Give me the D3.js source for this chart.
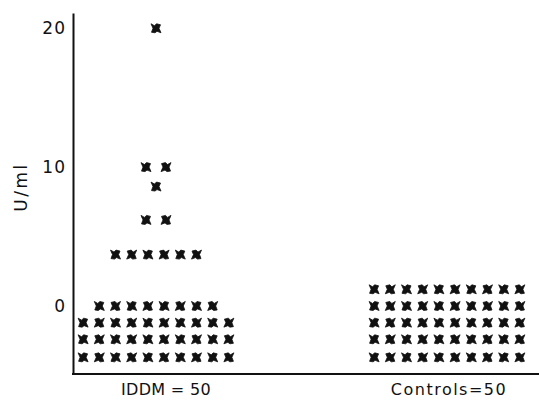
<!DOCTYPE html>
<html>
<head>
<meta charset="utf-8">
<script src="https://cdn.jsdelivr.net/npm/d3@7"></script>
<style>
  body { margin: 0; background: #fff; }
  text { font-family: "DejaVu Sans", sans-serif; fill: #111; }
</style>
</head>
<body>
<svg width="539" height="401"></svg>
<script>
// groups along the x axis
const groups = ["IDDM", "Controls"];
const groupLabels = ["IDDM = 50", "Controls=50"];

// each row of markers: level in U/ml and number of subjects in that row
const iddmLevels = [20, 10, 8.6, 6.2, 3.7, 0, -1.2, -2.4, -3.7];
const iddmCounts = [1, 2, 1, 2, 6, 8, 10, 10, 10];
const controlLevels = [1.2, 0, -1.2, -2.4, -3.7];
const controlCounts = [10, 10, 10, 10, 10];

const yTicks = [0, 10, 20];

const svg = d3.select("svg");

const y = d3.scaleLinear().domain([-4.9, 21.1]).range([374, 13]);
const x = d3.scalePoint().domain(groups).range([156, 447]);
const step = 16.2; // spacing between markers in a row

// build one record per marker
const points = [];
function addRows(group, levels, counts) {
  levels.forEach((v, r) => {
    const n = counts[r];
    const gap = n === 2 ? 20 : step;
    for (let i = 0; i < n; i++) {
      points.push({ group: group, value: v, offset: (i - (n - 1) / 2) * gap, i: i });
    }
  });
}
addRows("IDDM", iddmLevels, iddmCounts);
addRows("Controls", controlLevels, controlCounts);

// y axis, no tick marks
const yAxis = svg.append("g")
  .attr("transform", "translate(73,0)")
  .call(d3.axisLeft(y).tickValues(yTicks).tickSize(0).tickPadding(7).tickFormat(d3.format("d")));
yAxis.select(".domain").attr("stroke", "#111").attr("stroke-width", 2);
yAxis.selectAll("text")
  .style("font-size", "17px")
  .style("letter-spacing", "1px")
  .attr("fill", "#111");

// x axis line
svg.append("line")
  .attr("x1", 72).attr("x2", 539)
  .attr("y1", y.range()[0]).attr("y2", y.range()[0])
  .attr("stroke", "#111").attr("stroke-width", 2);

// group labels
svg.selectAll(".glabel")
  .data(groups)
  .join("text")
  .attr("class", "glabel")
  .attr("x", (d, i) => x(d) + (i === 0 ? 10 : 2))
  .attr("y", 395)
  .attr("text-anchor", "middle")
  .style("font-size", "16px")
  .style("letter-spacing", (d, i) => i === 0 ? "0.3px" : "1.5px")
  .text((d, i) => groupLabels[i]);

// y title
svg.append("text")
  .attr("transform", "translate(27,187) rotate(-90)")
  .attr("text-anchor", "middle")
  .style("font-size", "17px")
  .style("letter-spacing", "2.5px")
  .text("U/ml");

// marker glyph, roughly the blotchy bow shape of the print
const glyph = "M-5,-4.5 L-1.5,-2.5 L0.5,-4.5 L4.5,-3.5 L3,0 L5,4.5 L1,3 L-1,4.5 L-4.5,4 L-3,0 Z";

svg.append("g")
  .selectAll("path")
  .data(points)
  .join("path")
  .attr("d", glyph)
  .attr("fill", "#111")
  .attr("stroke", "#111")
  .attr("stroke-width", 0.8)
  .attr("stroke-linejoin", "round")
  .attr("transform", d => `translate(${x(d.group) + d.offset},${y(d.value)}) scale(${d.i % 2 ? -1 : 1},1)`);
</script>
</body>
</html>
